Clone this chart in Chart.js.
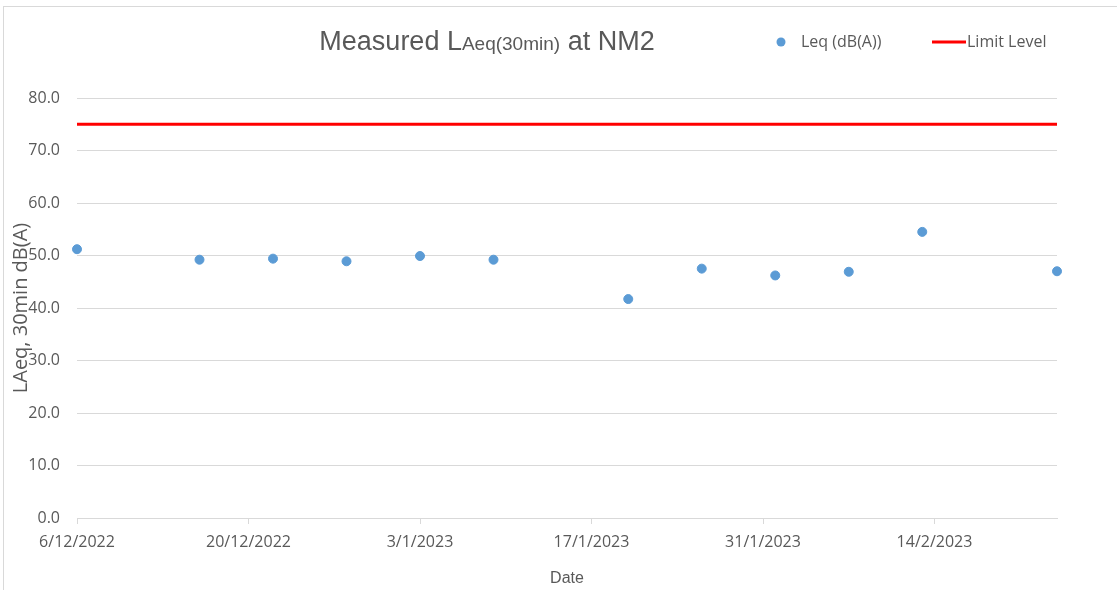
<!DOCTYPE html>
<html>
<head>
<meta charset="utf-8">
<title>Measured LAeq(30min) at NM2</title>
<script src="https://cdn.jsdelivr.net/npm/chart.js@4.4.0/dist/chart.umd.min.js"></script>
<style>
  html, body { margin: 0; padding: 0; background: #fff; }
  #wrap { position: relative; width: 1117px; height: 590px; overflow: hidden; }
  #frame { position: absolute; left: 3px; top: 6px; right: -4px; bottom: -4px; border: 1px solid #d9d9d9; }
  canvas { position: absolute; left: 0; top: 0; }
</style>
</head>
<body>
<div id="wrap">
  <div id="frame"></div>
  <canvas id="chart" width="1117" height="590"></canvas>
</div>
<script>
const measureDates = ['2022-12-06', '2022-12-16', '2022-12-22', '2022-12-28', '2023-01-03', '2023-01-09',
                      '2023-01-20', '2023-01-26', '2023-02-01', '2023-02-07', '2023-02-13', '2023-02-24'];
const leqValues = [51.2, 49.2, 49.4, 48.9, 49.9, 49.2, 41.7, 47.5, 46.2, 46.9, 54.5, 47.0];
const limitLevel = 75;
const axisStart = '2022-12-06';
const axisEnd = '2023-02-24';
const xTickDates = ['2022-12-06', '2022-12-20', '2023-01-03', '2023-01-17', '2023-01-31', '2023-02-14'];
const yMin = 0, yMax = 80, yStep = 10;

const DAY = 86400000;
function toMs(s) {
    const p = s.split('-').map(Number);
    return Date.UTC(p[0], p[1] - 1, p[2]);
}
const startMs = toMs(axisStart);
function dayOf(s) { return (toMs(s) - startMs) / DAY; }
function fmtDay(v) {
    const d = new Date(startMs + v * DAY);
    return d.getUTCDate() + '/' + (d.getUTCMonth() + 1) + '/' + d.getUTCFullYear();
}

const grey = '#595959';
const gridGrey = '#d9d9d9';
const tickFont = { family: '"Open Sans", sans-serif', size: 16 };

const headerPlugin = {
    id: 'header',
    afterDraw(chart) {
        const ctx = chart.ctx;
        const big = '27px "Liberation Sans", Arial, sans-serif';
        const small = '19px "Liberation Sans", Arial, sans-serif';
        const parts = [['Measured L', big, 0], ['Aeq(30min)', small, 0], [' at NM2', big, 0]];
        ctx.save();
        let total = 0;
        parts.forEach(p => { ctx.font = p[1]; p[3] = ctx.measureText(p[0]).width; total += p[3]; });
        let x = 487 - total / 2;
        ctx.fillStyle = grey;
        ctx.textAlign = 'left';
        ctx.textBaseline = 'alphabetic';
        parts.forEach(p => { ctx.font = p[1]; ctx.fillText(p[0], x, 50 + p[2]); x += p[3]; });

        // legend
        ctx.font = '16px "Open Sans", sans-serif';
        ctx.textBaseline = 'middle';
        ctx.fillStyle = '#5b9bd5';
        ctx.beginPath();
        ctx.arc(781, 42, 4.5, 0, Math.PI * 2);
        ctx.fill();
        ctx.fillStyle = grey;
        ctx.fillText('Leq (dB(A))', 801, 42);
        ctx.strokeStyle = '#ff0000';
        ctx.lineWidth = 3;
        ctx.beginPath();
        ctx.moveTo(932, 42);
        ctx.lineTo(966, 42);
        ctx.stroke();
        ctx.fillText('Limit Level', 967, 42);
        ctx.restore();
    }
};

const leqPoints = measureDates.map((d, i) => ({ x: dayOf(d), y: leqValues[i] }));
const limitPoints = [{ x: 0, y: limitLevel }, { x: dayOf(axisEnd), y: limitLevel }];

new Chart(document.getElementById('chart'), {
    type: 'scatter',
    data: {
        datasets: [
            {
                label: 'Leq (dB(A))',
                data: leqPoints,
                backgroundColor: '#5b9bd5',
                borderColor: '#5b9bd5',
                pointRadius: 4.5,
                clip: false
            },
            {
                label: 'Limit Level',
                type: 'line',
                data: limitPoints,
                borderColor: '#ff0000',
                borderWidth: 3,
                pointRadius: 0,
                fill: false
            }
        ]
    },
    options: {
        responsive: false,
        animation: false,
        layout: { padding: { top: 98, right: 60, left: 0, bottom: 0 } },
        plugins: {
            legend: { display: false },
            title: { display: false },
            tooltip: { enabled: false }
        },
        scales: {
            x: {
                type: 'linear',
                min: 0,
                max: dayOf(axisEnd),
                afterBuildTicks: s => { s.ticks = xTickDates.map(d => ({ value: dayOf(d) })); },
                afterFit: s => { s.height = 72; },
                ticks: {
                    callback: v => fmtDay(v),
                    autoSkip: false,
                    maxRotation: 0,
                    color: grey,
                    font: tickFont,
                    padding: 9
                },
                grid: { drawOnChartArea: false, drawTicks: true, tickLength: 6, color: gridGrey },
                border: { color: gridGrey },
                title: {
                    display: true,
                    text: 'Date',
                    color: grey,
                    font: { family: '"Liberation Sans", Arial, sans-serif', size: 16 },
                    padding: { top: 0, bottom: 2 }
                }
            },
            y: {
                min: yMin,
                max: yMax,
                afterFit: s => { s.width = 77; },
                ticks: {
                    stepSize: yStep,
                    callback: v => v.toFixed(1),
                    color: grey,
                    font: tickFont,
                    padding: 17
                },
                grid: { color: gridGrey, drawTicks: false },
                border: { display: false },
                title: {
                    display: true,
                    text: 'LAeq, 30min dB(A)',
                    color: grey,
                    font: { family: '"Open Sans", sans-serif', size: 20 },
                    padding: { top: 9, bottom: 0 }
                }
            }
        }
    },
    plugins: [headerPlugin]
});
</script>
</body>
</html>
